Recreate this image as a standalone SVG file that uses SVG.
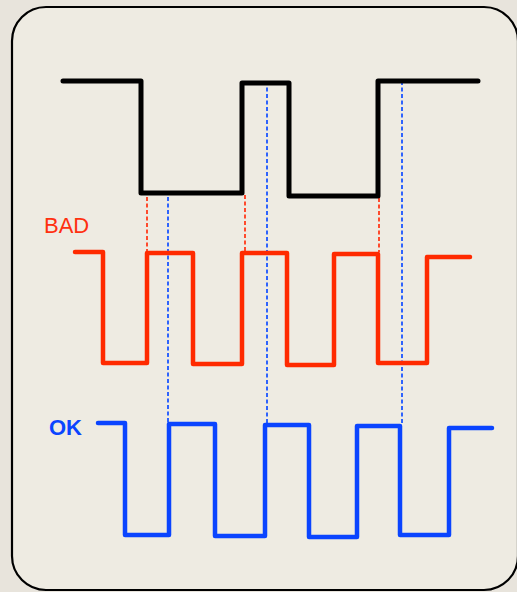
<svg xmlns="http://www.w3.org/2000/svg" width="517" height="592" viewBox="0 0 517 592">
<style>
.sig{fill:none;stroke-width:5;stroke-linejoin:round;stroke-linecap:round}
.blk{stroke:#000}
.red{stroke:#ff2a00;stroke-width:4.5}
.blu{stroke:#0a44ff;stroke-width:4.5}
.dash{fill:none;stroke-width:1.8;stroke-dasharray:4 2.5}
.dr{stroke:#ff3a1a}
.db{stroke:#1a55ff}
.lbl{font-family:"Liberation Sans",Arial,sans-serif}
</style>
<rect x="0" y="0" width="517" height="592" fill="#e8e4dc"/>
<rect id="frame" x="12" y="7" width="506" height="583" rx="34" ry="34" fill="#eeebe2" stroke="#000" stroke-width="2.2"/>
<g id="connectors">
<line class="dash dr" x1="147" y1="197" x2="147" y2="251"/>
<line class="dash dr" x1="245" y1="195" x2="245" y2="252"/>
<line class="dash dr" x1="379" y1="198" x2="379" y2="252"/>
<line class="dash db" x1="168" y1="197" x2="168" y2="422"/>
<line class="dash db" x1="267" y1="81" x2="267" y2="424"/>
<line class="dash db" x1="402" y1="81" x2="402" y2="425"/>
</g>
<g id="clock">
<polyline class="sig blk" points="63,81 141,81 141,193 242,193 242,83 289,83 289,196 378,196 378,81 478,81"/>
</g>
<g id="bad">
<text class="lbl" x="44" y="233" font-size="22" fill="#ff3010">BAD</text>
<polyline class="sig red" points="75,252 103,252 103,363 147,363 147,253 193,253 193,364 242,364 242,253 287,253 287,365 334,365 334,254 378,254 378,363 427,363 427,257 470,257"/>
</g>
<g id="ok">
<text class="lbl" x="49" y="435" font-size="22" font-weight="bold" fill="#0a44ff">OK</text>
<polyline class="sig blu" points="98,423 125,423 125,535 169,535 169,424 215,424 215,536 265,536 265,425 309,425 309,537 357,537 357,426 400,426 400,535 449,535 449,428 492,428"/>
</g>
</svg>
